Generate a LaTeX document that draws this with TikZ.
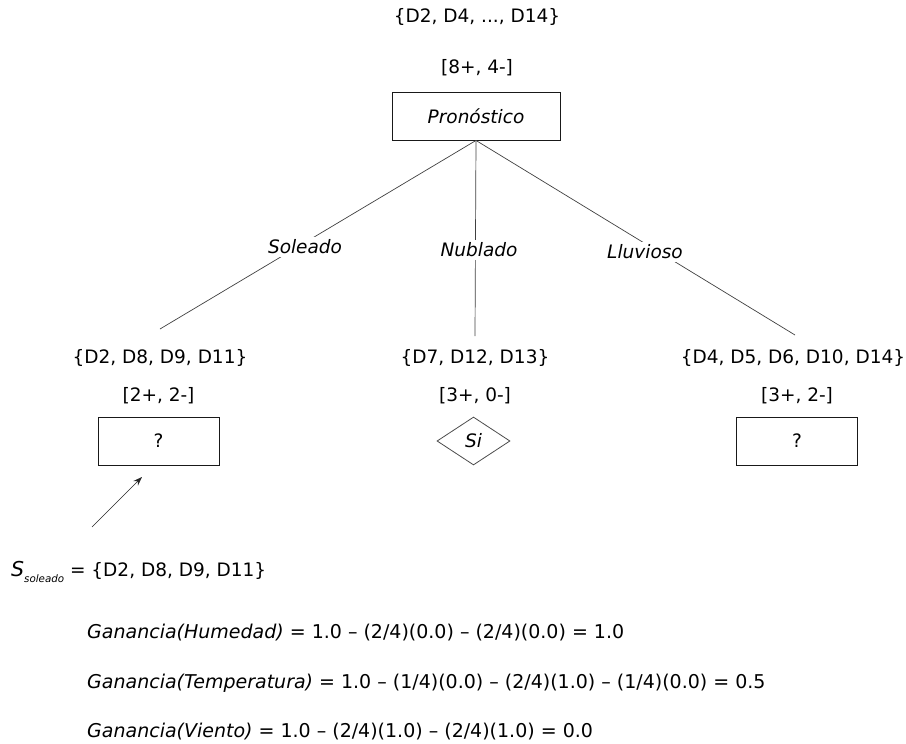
\documentclass[tikz,border=0pt]{standalone}
\usepackage{fontspec}
\setmainfont{DejaVu Sans}
\usetikzlibrary{shapes.geometric,arrows.meta}
\begin{document}
\begin{tikzpicture}[x=1pt,y=-1pt,
  txt/.style={font=\fontsize{18.5}{22}\selectfont, inner sep=0pt},
  edgelbl/.style={font=\fontsize{18.5}{22}\selectfont\itshape, fill=white, inner sep=2.5pt},
  attrbox/.style={draw=black!90, line width=0.9pt, minimum width=121pt, minimum height=48pt, inner sep=0pt, font=\fontsize{18.5}{22}\selectfont},
  leafbox/.style={draw=black!70, line width=0.8pt, diamond, aspect=1.52, minimum width=73pt, minimum height=48pt, inner sep=0pt, font=\fontsize{18.5}{22}\selectfont\itshape},
  branch/.style={draw=black!75, line width=0.7pt},
  eq/.style={font=\fontsize{19}{22}\selectfont, anchor=base west, inner sep=0pt}]
\useasboundingbox (0,0) rectangle (906,744);

% root
\node[txt] (rootset) at (477,17) {\{D2, D4, ..., D14\}};
\node[txt] (rootcnt) at (477,68) {[8+, 4-]};
\node[attrbox, minimum width=168pt, font=\fontsize{18.5}{22}\selectfont\itshape] (pron) at (476,116) {Pronóstico};

% branch ends
\coordinate (endL) at (160,329);
\coordinate (endM) at (475,336);
\coordinate (endR) at (795,335);
\draw[branch] (pron.south) -- (endL);
\draw[branch] (pron.south) -- (endM);
\draw[branch] (pron.south) -- (endR);
\node[edgelbl] (lblL) at (305,247) {Soleado};
\node[edgelbl] (lblM) at (479,250) {Nublado};
\node[edgelbl] (lblR) at (645,252) {Lluvioso};

% children
\node[txt] (setL) at (160,358) {\{D2, D8, D9, D11\}};
\node[txt] (cntL) at (158.5,396) {[2+, 2-]};
\node[attrbox] (boxL) at (158.5,441) {?};

\node[txt] (setM) at (475,358) {\{D7, D12, D13\}};
\node[txt] (cntM) at (475,396) {[3+, 0-]};
\node[leafbox] (leafM) at (473.5,441) {Si};

\node[txt] (setR) at (793,358) {\{D4, D5, D6, D10, D14\}};
\node[txt] (cntR) at (797,396) {[3+, 2-]};
\node[attrbox] (boxR) at (797,441) {?};

% pointer to the open node
\coordinate (ptrStart) at (92,527);
\coordinate (ptrEnd) at (142,477);
\draw[black!85, line width=0.6pt, -{Stealth[length=9pt,width=6.5pt]}] (ptrStart) -- (ptrEnd);

% subset and gains
\node[eq, font=\fontsize{18.5}{22}\selectfont] (subset) at (11,576) {{\fontsize{20.5}{22}\selectfont\itshape S}\raisebox{-6pt}{\fontsize{10.3}{12}\selectfont\itshape soleado} = \{D2, D8, D9, D11\}};
\node[eq] (g1) at (87,638) {\itshape Ganancia(Humedad)\upshape{} = 1.0 – (2/4)(0.0) – (2/4)(0.0) = 1.0};
\node[eq] (g2) at (87,688) {\itshape Ganancia(Temperatura)\upshape{} = 1.0 – (1/4)(0.0) – (2/4)(1.0) – (1/4)(0.0) = 0.5};
\node[eq] (g3) at (87,737) {\itshape Ganancia(Viento)\upshape{} = 1.0 – (2/4)(1.0) – (2/4)(1.0) = 0.0};
\end{tikzpicture}
\end{document}
